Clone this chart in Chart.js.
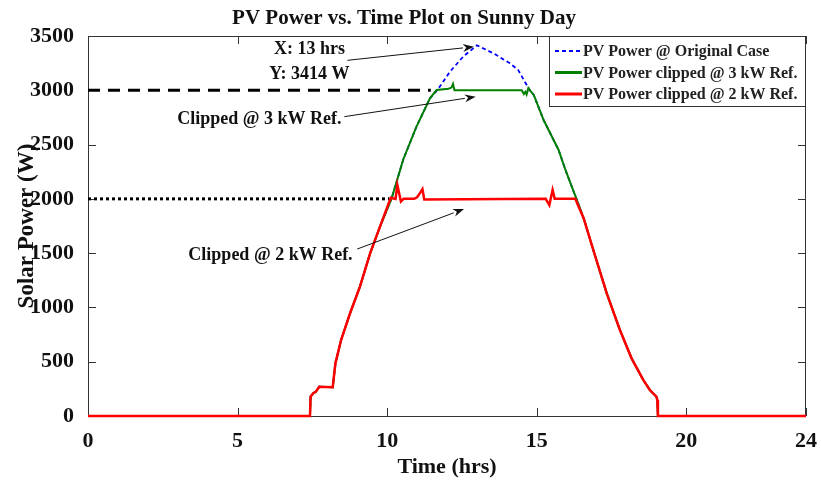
<!DOCTYPE html>
<html>
<head>
<meta charset="utf-8">
<title>PV Power vs. Time Plot on Sunny Day</title>
<script src="https://cdn.jsdelivr.net/npm/chart.js@4.4.1/dist/chart.umd.min.js"></script>
<style>
    body { margin: 0; background: #fff; }
    #wrap { width: 821px; height: 481px; }
</style>
</head>
<body>
<div id="wrap"><canvas id="grafico-pv"></canvas></div>
<script>
// Eixos
const xTicks = [0, 5, 10, 15, 20, 24];
const yTicks = [0, 500, 1000, 1500, 2000, 2500, 3000, 3500];

// PV Power @ Original Case (hrs, W)
const origTime  = [0, 7.42, 7.44, 7.53, 7.62, 7.73, 8.18, 8.27, 8.46, 8.76, 9.09, 9.43, 9.76, 10.15, 10.54, 10.98, 11.43, 11.7, 12.1, 12.54, 13.0, 13.55, 14.1, 14.38, 14.6, 14.77, 14.9, 15.23, 15.73, 15.96, 16.34, 16.57, 16.89, 17.34, 17.78, 18.17, 18.56, 18.78, 19.0, 19.03, 19.05, 24];
const origPower = [0, 0, 178, 209, 225, 270, 265, 485, 700, 946, 1191, 1498, 1744, 2005, 2365, 2665, 2926, 3010, 3172, 3310, 3414, 3341, 3249, 3187, 3079, 3000, 2957, 2726, 2450, 2266, 1990, 1820, 1529, 1130, 792, 531, 332, 239, 178, 147, 0, 0];

// PV Power clipped @ 3 kW Ref.
const clip3Time  = [0, 7.42, 7.44, 7.53, 7.62, 7.73, 8.18, 8.27, 8.46, 8.76, 9.09, 9.43, 9.76, 10.15, 10.54, 10.98, 11.43, 11.65, 12.05, 12.15, 12.2, 12.25, 14.5, 14.57, 14.62, 14.66, 14.72, 14.8, 14.9, 15.23, 15.73, 15.96, 16.34, 16.57, 16.89, 17.34, 17.78, 18.17, 18.56, 18.78, 19.0, 19.03, 19.05, 24];
const clip3Power = [0, 0, 178, 209, 225, 270, 265, 485, 700, 946, 1191, 1498, 1744, 2005, 2365, 2665, 2926, 3002, 3015, 3025, 3058, 3000, 3000, 2965, 2985, 2960, 3020, 2990, 2957, 2726, 2450, 2266, 1990, 1820, 1529, 1130, 792, 531, 332, 239, 178, 147, 0, 0];

// PV Power clipped @ 2 kW Ref.
const clip2Time  = [0, 7.42, 7.44, 7.53, 7.62, 7.73, 8.18, 8.27, 8.46, 8.76, 9.09, 9.43, 9.76, 10.12, 10.28, 10.34, 10.46, 10.55, 10.9, 11.0, 11.1, 11.18, 11.24, 15.3, 15.42, 15.53, 15.6, 16.29, 16.4, 16.57, 16.89, 17.34, 17.78, 18.17, 18.56, 18.78, 19.0, 19.03, 19.05, 24];
const clip2Power = [0, 0, 178, 209, 225, 270, 265, 485, 700, 946, 1191, 1498, 1744, 2010, 2000, 2128, 1975, 2000, 2000, 2015, 2055, 2090, 1995, 2000, 1943, 2082, 2000, 2000, 1928, 1820, 1529, 1130, 792, 531, 332, 239, 178, 147, 0, 0];

// Linhas de referência
const ref3kTime = [0, 11.46];
const ref3kPower = [3000, 3000];
const ref2kTime = [0, 10.07];
const ref2kPower = [2000, 2000];

// Anotações (coordenadas em hrs / W)
const noteTexts = ['X: 13 hrs', 'Y: 3414 W', 'Clipped @ 3 kW Ref.', 'Clipped @ 2 kW Ref.'];
const noteX = [7.4, 7.4, 5.73, 6.1];
const noteY = [3380, 3150, 2731, 1483];
const arrowFrom = [[8.67, 3276], [8.57, 2757], [9.0, 1538]];
const arrowTo = [[12.9, 3401], [12.96, 2941], [12.57, 1907]];

const FONT = "'Liberation Serif', 'Times New Roman', serif";

const toPoints = (t, p) => t.map((x, i) => ({ x: x, y: p[i] }));

const lineBase = { pointRadius: 0, tension: 0, fill: false, clip: false };

// Moldura e marcas de escala para dentro
const framePlugin = {
    id: 'frame',
    beforeDatasetsDraw(chart) {
        const { ctx, chartArea: a, scales: { x, y } } = chart;
        ctx.save();
        ctx.strokeStyle = '#333';
        ctx.lineWidth = 1;
        ctx.strokeRect(a.left + 0.5, a.top + 0.5, a.right - a.left - 1, a.bottom - a.top);
        ctx.beginPath();
        xTicks.forEach(v => {
            const px = Math.round(x.getPixelForValue(v)) + 0.5;
            ctx.moveTo(px, a.bottom); ctx.lineTo(px, a.bottom - 8);
            ctx.moveTo(px, a.top); ctx.lineTo(px, a.top + 8);
        });
        yTicks.forEach(v => {
            const py = Math.round(y.getPixelForValue(v)) + 0.5;
            ctx.moveTo(a.left, py); ctx.lineTo(a.left + 8, py);
            ctx.moveTo(a.right, py); ctx.lineTo(a.right - 8, py);
        });
        ctx.stroke();
        ctx.restore();
    }
};

function drawArrow(ctx, x0, y0, x1, y1) {
    const ang = Math.atan2(y1 - y0, x1 - x0);
    const len = 11, half = 4;
    ctx.beginPath();
    ctx.moveTo(x0, y0);
    ctx.lineTo(x1 - len * Math.cos(ang), y1 - len * Math.sin(ang));
    ctx.stroke();
    ctx.beginPath();
    ctx.moveTo(x1, y1);
    ctx.lineTo(x1 - len * Math.cos(ang) + half * Math.sin(ang), y1 - len * Math.sin(ang) - half * Math.cos(ang));
    ctx.lineTo(x1 - len * 0.7 * Math.cos(ang), y1 - len * 0.7 * Math.sin(ang));
    ctx.lineTo(x1 - len * Math.cos(ang) - half * Math.sin(ang), y1 - len * Math.sin(ang) + half * Math.cos(ang));
    ctx.closePath();
    ctx.fill();
}

// Textos e setas
const notesPlugin = {
    id: 'notes',
    afterDraw(chart) {
        const { ctx, scales: { x, y } } = chart;
        ctx.save();
        ctx.fillStyle = '#111';
        ctx.strokeStyle = '#111';
        ctx.lineWidth = 1;
        ctx.font = `bold 18px ${FONT}`;
        ctx.textAlign = 'center';
        ctx.textBaseline = 'middle';
        noteTexts.forEach((t, i) => {
            ctx.fillText(t, x.getPixelForValue(noteX[i]), y.getPixelForValue(noteY[i]));
        });
        arrowFrom.forEach((f, i) => {
            drawArrow(ctx,
                x.getPixelForValue(f[0]), y.getPixelForValue(f[1]),
                x.getPixelForValue(arrowTo[i][0]), y.getPixelForValue(arrowTo[i][1]));
        });
        ctx.restore();
    }
};

// Legenda dentro da área do gráfico (canto superior direito)
const legendPlugin = {
    id: 'boxLegend',
    afterDraw(chart) {
        const { ctx, chartArea: a } = chart;
        const items = chart.data.datasets.slice(0, 3);
        const w = 257, h = 71;
        const left = a.right - w, top = a.top;
        ctx.save();
        ctx.fillStyle = '#fff';
        ctx.fillRect(left, top, w, h);
        ctx.strokeStyle = '#333';
        ctx.lineWidth = 1;
        ctx.strokeRect(left + 0.5, top + 0.5, w - 1, h - 1);
        ctx.font = `bold 16px ${FONT}`;
        ctx.textBaseline = 'middle';
        ctx.textAlign = 'left';
        items.forEach((ds, i) => {
            const cy = top + 15 + i * 21.5;
            ctx.beginPath();
            ctx.strokeStyle = ds.borderColor;
            ctx.lineWidth = i === 0 ? 2 : 3;
            ctx.setLineDash(ds.borderDash || []);
            ctx.moveTo(left + 6, cy);
            ctx.lineTo(left + 33, cy);
            ctx.stroke();
            ctx.setLineDash([]);
            ctx.fillStyle = '#222';
            ctx.fillText(ds.label, left + 34, cy + 1);
        });
        ctx.restore();
    }
};

new Chart(document.getElementById('grafico-pv'), {
    type: 'line',
    data: {
        datasets: [
            { ...lineBase, label: 'PV Power @ Original Case', data: toPoints(origTime, origPower),
              borderColor: '#0000ff', borderWidth: 1.8, borderDash: [4, 3], order: 3 },
            { ...lineBase, label: 'PV Power clipped @ 3 kW Ref.', data: toPoints(clip3Time, clip3Power),
              borderColor: '#008000', borderWidth: 2, order: 2 },
            { ...lineBase, label: 'PV Power clipped @ 2 kW Ref.', data: toPoints(clip2Time, clip2Power),
              borderColor: '#ff0000', borderWidth: 2.5, order: 1 },
            { ...lineBase, label: '3 kW', data: toPoints(ref3kTime, ref3kPower),
              borderColor: '#000', borderWidth: 3, borderDash: [12, 8], order: 4 },
            { ...lineBase, label: '2 kW', data: toPoints(ref2kTime, ref2kPower),
              borderColor: '#000', borderWidth: 3, borderDash: [3, 3], order: 4 }
        ]
    },
    options: {
        responsive: true,
        maintainAspectRatio: false,
        animation: false,
        layout: { padding: { right: 13 } },
        plugins: {
            legend: { display: false },
            tooltip: { enabled: false },
            title: {
                display: true,
                text: 'PV Power vs. Time Plot on Sunny Day',
                color: '#111',
                font: { family: FONT, size: 21, weight: 'bold' },
                padding: { top: 6, bottom: 4.8 }
            }
        },
        scales: {
            x: {
                type: 'linear',
                min: 0,
                max: 24,
                afterBuildTicks: s => { s.ticks = xTicks.map(v => ({ value: v })); },
                afterFit: s => { s.height = 65; },
                grid: { display: false },
                border: { display: false },
                ticks: { color: '#111', padding: 4, maxRotation: 0, autoSkip: false,
                         callback: v => String(v),
                         font: { family: FONT, size: 22, weight: 'bold' } },
                title: { display: true, text: 'Time (hrs)', color: '#111', padding: { top: 0, bottom: 0 },
                         font: { family: FONT, size: 22, weight: 'bold' } }
            },
            y: {
                type: 'linear',
                min: 0,
                max: 3500,
                afterBuildTicks: s => { s.ticks = yTicks.map(v => ({ value: v })); },
                afterFit: s => { s.width = 88; },
                grid: { display: false },
                border: { display: false },
                ticks: { color: '#111', padding: 6, autoSkip: false,
                         callback: v => String(v),
                         font: { family: FONT, size: 22, weight: 'bold' } },
                title: { display: true, text: 'Solar Power (W)', color: '#111', padding: { top: 13, bottom: 0 },
                         font: { family: FONT, size: 23, weight: 'bold' } }
            }
        }
    },
    plugins: [framePlugin, notesPlugin, legendPlugin]
});
</script>
</body>
</html>
